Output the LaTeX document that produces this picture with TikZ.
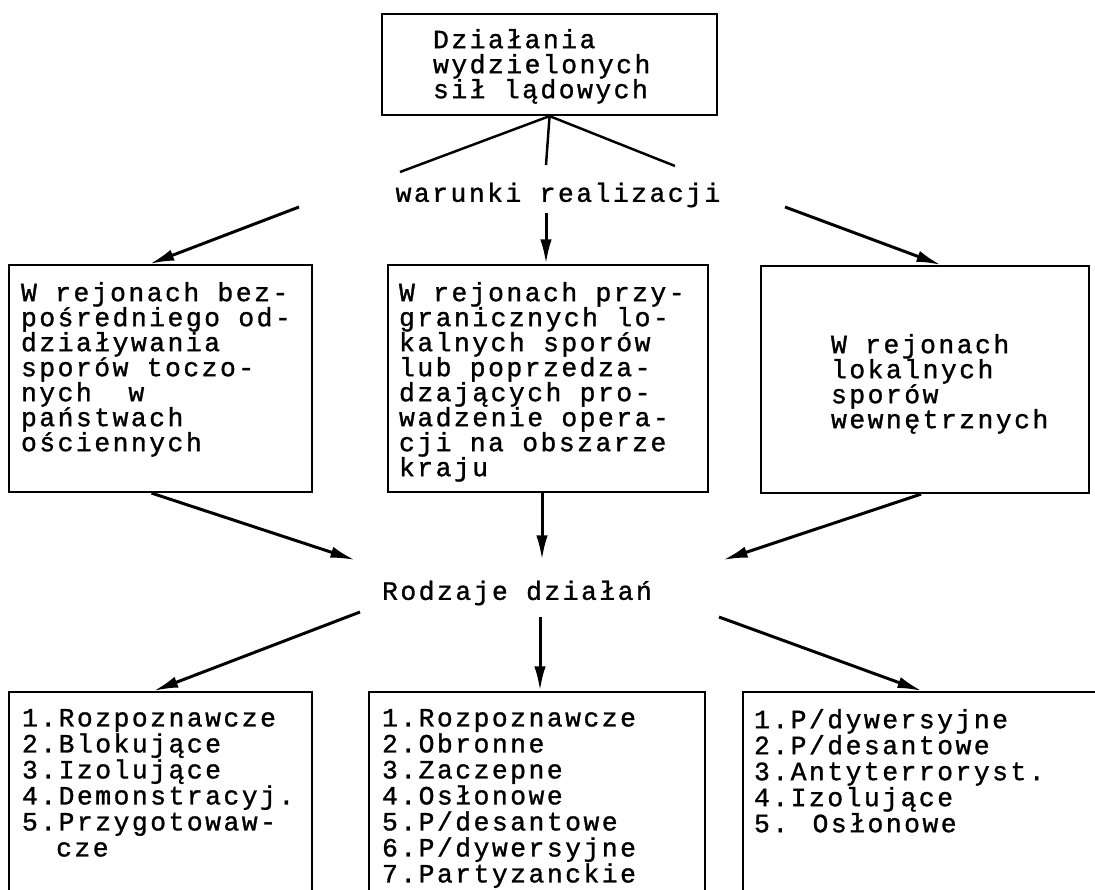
\documentclass[tikz,border=0pt]{standalone}
\usepackage{fontspec}
\newfontfamily\dmfont[LetterSpace=9.5,FakeBold=1.2]{Liberation Mono}
\usetikzlibrary{arrows.meta}
\newlength\px
\setlength\px{0.02cm}
% text set at the top left of a box: width, height, left gap, top gap, lines
\newcommand{\boxtxt}[5]{\begin{minipage}[t][#2][t]{#1}\lineskiplimit=-20pt\vspace*{#4}\leftskip=#3\relax #5\end{minipage}}

\begin{document}
\begin{tikzpicture}[x=0.02cm, y=-0.02cm]
\tikzstyle{every node}=[font={\dmfont\fontsize{15}{14.23}\selectfont}];
\tikzstyle{panel}=[draw, line width=1.2pt, anchor=north west, inner sep=0pt];
\tikzstyle{stem}=[line width=1.4pt];
\tikzstyle{arr}=[line width=1.7pt, -{Latex[length=14pt,width=6.5pt]}];
\useasboundingbox (0,0) rectangle (1095,889);

\node[panel] (top) at (381,13) {\boxtxt{335\px}{101\px}{51\px}{15\px}{Działania\\wydzielonych\\sił lądowych}};
\node (war) at (558,195) {warunki realizacji};

\node[panel] (l1) at (8,264) {\boxtxt{303\px}{227\px}{12\px}{17\px}{W rejonach bez-\\pośredniego od-\\działywania\\sporów toczo-\\nych~~w\\państwach\\ościennych}};
\node[panel] (m1) at (387,264) {\boxtxt{320\px}{227\px}{11\px}{17\px}{W rejonach przy-\\granicznych lo-\\kalnych sporów\\lub poprzedza-\\dzających pro-\\wadzenie opera-\\cji na obszarze\\kraju}};
\node[panel] (r1) at (760,265) {\boxtxt{328\px}{227\px}{70\px}{68\px}{W rejonach\\lokalnych\\sporów\\wewnętrznych}};

\node (rodz) at (517,593) {Rodzaje działań};

\node[panel] (l2) at (8,691) {\boxtxt{303\px}{230\px}{13\px}{17\px}{\baselineskip=26\px 1.Rozpoznawcze\\2.Blokujące\\3.Izolujące\\4.Demonstracyj.\\5.Przygotowaw-\\\phantom{5.}cze}};
\node[panel] (m2) at (368,691) {\boxtxt{336\px}{230\px}{13\px}{17\px}{\baselineskip=26\px 1.Rozpoznawcze\\2.Obronne\\3.Zaczepne\\4.Osłonowe\\5.P/desantowe\\6.P/dywersyjne\\7.Partyzanckie}};
\node[panel] (r2) at (742,691) {\boxtxt{400\px}{230\px}{11\px}{17\px}{\baselineskip=26\px 1.P/dywersyjne\\2.P/desantowe\\3.Antyterroryst.\\4.Izolujące\\5. Osłonowe}};

\coordinate (w1) at (400,172);
\coordinate (w2) at (546,165);
\coordinate (w3) at (675,166);
\coordinate (a1) at (299,207);
\coordinate (a2) at (546,213);
\coordinate (a3) at (785,207);
\coordinate (b1) at (355,560);
\coordinate (b2) at (542,560);
\coordinate (b3) at (723,560);
\coordinate (c1) at (360,612);
\coordinate (c2) at (540,617);
\coordinate (c3) at (719,617);

\draw[stem] (top.south) -- (w1)
(top.south) -- (w2)
(top.south) -- (w3);
\draw[arr] (a1) -- ([xshift=-11\px]l1.north);
\draw[arr] (a2) -- (a2 |- m1.north);
\draw[arr] (a3) -- ([xshift=16\px]r1.north);
\draw[arr] ([xshift=-9\px]l1.south) -- (b1);
\draw[arr] (b2 |- m1.south) -- (b2);
\draw[arr] ([xshift=-4\px]r1.south) -- (b3);
\draw[arr] (c1) -- ([xshift=-7\px]l2.north);
\draw[arr] (c2) -- (c2 |- m2.north);
\draw[arr] (c3) -- ([xshift=-21\px]r2.north);
\end{tikzpicture}
\end{document}
